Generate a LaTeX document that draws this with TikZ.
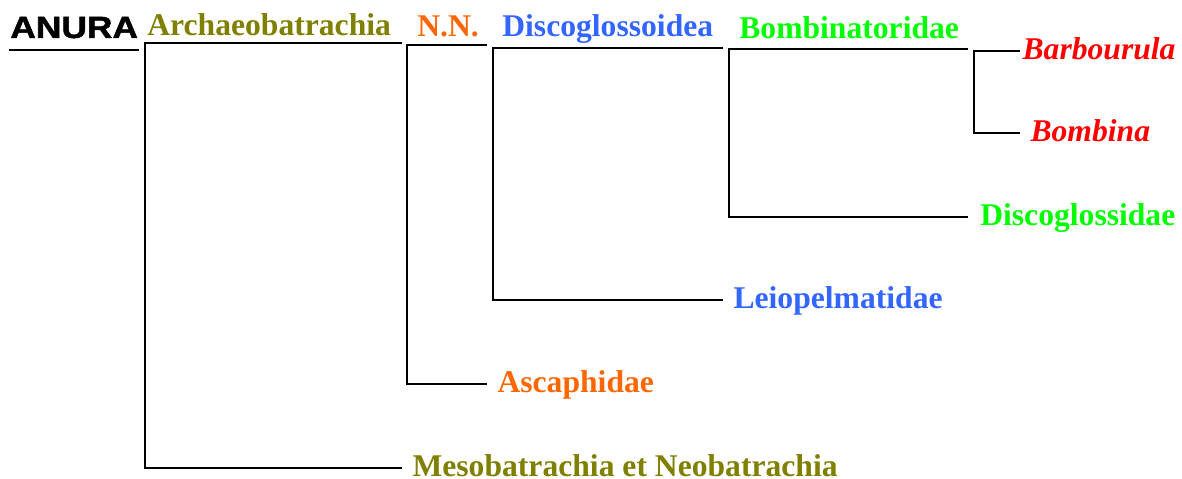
\documentclass[tikz,border=0pt]{standalone}
\usepackage{fontspec}
\setmainfont{Liberation Serif}
\newfontfamily\anurafont[BoldFeatures={FakeBold=1.5}]{Liberation Sans}
\usepackage{graphicx}
\usepackage{tikz}
\definecolor{archcol}{RGB}{128,128,0}
\definecolor{nncol}{RGB}{255,102,0}
\definecolor{discocol}{RGB}{51,102,255}
\definecolor{bombcol}{RGB}{0,255,0}
\definecolor{genuscol}{RGB}{255,0,0}

\begin{document}
\begin{tikzpicture}[x=0.02cm, y=-0.02cm]
% Define styles
\tikzstyle{branch} = [line width=1.4pt, draw=black]
\tikzstyle{clade} = [anchor=base west, inner sep=0pt, font=\fontsize{18}{20}\selectfont\bfseries]
\tikzstyle{leaf} = [anchor=west, inner sep=0pt, outer xsep=6pt, text height=10.2pt, text depth=0pt, font=\fontsize{18}{20}\selectfont\bfseries]
\tikzstyle{genus} = [leaf, font=\fontsize{18}{20}\selectfont\bfseries\itshape, text=genuscol]
\useasboundingbox (0,0) rectangle (1182,479);
% Place nodes
\node (anura) [anchor=base west, inner sep=0pt, font=\anurafont\bfseries\fontsize{17.5}{20}\selectfont] at (10,38) {\scalebox{1.15}[1]{ANURA}};
\node (arch) [clade, text=archcol] at (147,36) {Archaeobatrachia};
\node (nn) [clade, text=nncol] at (417,37) {N.N.};
\node (disco) [clade, text=discocol] at (502,37) {Discoglossoidea};
\node (bombinat) [clade, text=bombcol] at (739,39) {Bombinatoridae};
\node (meso) [leaf, text=archcol] at (402,468) {Mesobatrachia et Neobatrachia};
\node (ascaph) [leaf, text=nncol] at (487,384) {Ascaphidae};
\node (leio) [leaf, text=discocol] at (723,300) {Leiopelmatidae};
\node (discogl) [leaf, text=bombcol, outer xsep=7pt] at (968,217) {Discoglossidae};
\node (barb) [genus, outer xsep=1.5pt] at (1020,51) {Barbourula};
\node (bomb) [genus] at (1020,133) {Bombina};
% Branch points
\coordinate (anuraL) at (9,50);
\coordinate (anuraR) at (139,50);
\coordinate (archtop) at (402,43);
\coordinate (archknee) at (145,43);
\coordinate (nntop) at (487,45);
\coordinate (nnknee) at (407,45);
\coordinate (discotop) at (723,48);
\coordinate (discoknee) at (493,48);
\coordinate (bombtop) at (968,49);
\coordinate (bombknee) at (729,49);
\coordinate (barbknee) at (974,51);
% Draw lines
\draw [branch] (anuraL) -- (anuraR);
\draw [branch] (archtop) -- (archknee) |- (meso.west);
\draw [branch] (nntop) -- (nnknee) |- (ascaph.west);
\draw [branch] (discotop) -- (discoknee) |- (leio.west);
\draw [branch] (bombtop) -- (bombknee) |- (discogl.west);
\draw [branch] (barb.west) -- (barbknee) |- (bomb.west);
\end{tikzpicture}
\end{document}
